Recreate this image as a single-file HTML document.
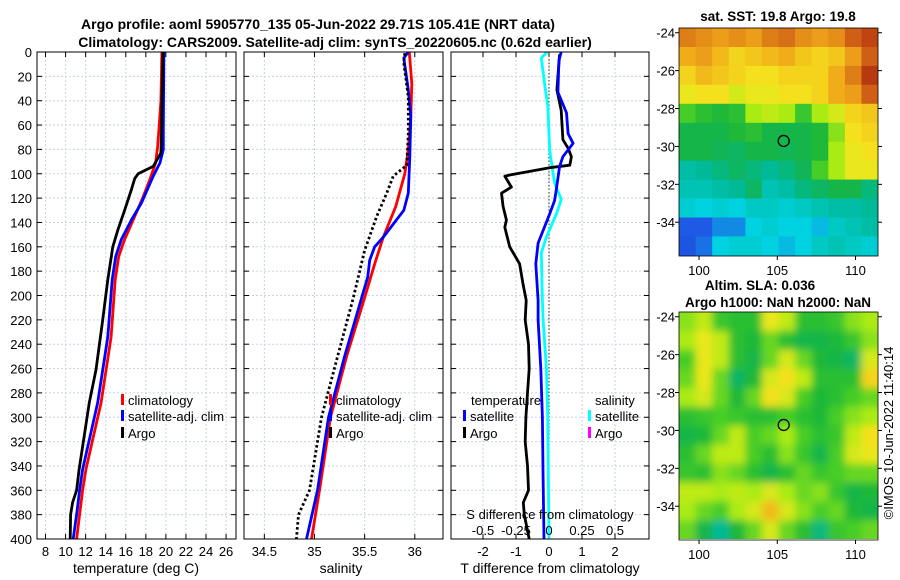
<!DOCTYPE html>
<html><head><meta charset="utf-8"><style>
html,body{margin:0;padding:0;background:#fff;}
svg{display:block;font-family:"Liberation Sans",sans-serif;}
</style></head><body>
<svg id="fig" width="900" height="580" viewBox="0 0 900 580" xmlns="http://www.w3.org/2000/svg">
<defs>
<clipPath id="c1"><rect x="37" y="52" width="199" height="487"/></clipPath>
<clipPath id="c2"><rect x="244" y="52" width="199" height="487"/></clipPath>
<clipPath id="c3"><rect x="451" y="52" width="198" height="487"/></clipPath>
<clipPath id="cm1"><rect x="679" y="28" width="199" height="228"/></clipPath>
<clipPath id="cm2"><rect x="679" y="312" width="199" height="227"/></clipPath>
<filter id="blur" x="-5%" y="-5%" width="110%" height="110%"><feGaussianBlur stdDeviation="4"/></filter>
</defs>
<text x="318" y="29" text-anchor="middle" font-size="14" font-weight="bold">Argo profile: aoml 5905770_135 05-Jun-2022 29.71S 105.41E (NRT data)</text>
<text x="335" y="47" text-anchor="middle" font-size="14" font-weight="bold">Climatology: CARS2009. Satellite-adj clim: synTS_20220605.nc (0.62d earlier)</text>
<g id="p1"></g>
<g id="p2"></g>
<g id="p3"></g>
<g id="m1"></g>
<g id="m2"></g>
<text x="0" y="0" transform="translate(893,433) rotate(-90)" text-anchor="middle" font-size="13">©IMOS 10-Jun-2022 11:40:14</text>
</svg>
<script>
const tempClimDepth=[0,20,40,64,78,91,105,119,135,154,168,187,234,288,343,360,380,400];
const tempClim=[19.6,19.55,19.5,19.3,19.17,18.97,18.4,17.73,16.89,15.88,15.3,14.95,14.54,13.54,12.03,11.7,11.4,11.1];
const tempSatDepth=[0,20,40,64,80,91,102,124,138,154,168,187,234,288,343,360,380,400];
const tempSat=[19.8,19.78,19.76,19.74,19.74,19.41,18.74,17.56,16.56,15.55,15.0,14.65,14.21,13.2,11.7,11.4,11.1,10.76];
const tempArgoDepth=[0,20,40,64,83,94,100,104,113,130,146,160,187,220,261,288,343,360,370,380,400];
const tempArgo=[19.7,19.65,19.6,19.57,19.5,18.74,17.23,16.89,16.56,15.88,15.22,14.71,14.21,13.7,13.03,12.36,11.35,11.1,10.7,10.5,10.46];
const salClimDepth=[0,26,53,80,100,127,152,174,202,250,300,360,400];
const salClim=[35.945,35.97,35.96,35.935,35.90,35.81,35.686,35.60,35.50,35.32,35.16,35.05,34.97];
const salSatDepth=[0,5,31,53,86,116,130,152,160,171,185,202,250,300,360,400];
const salSat=[35.935,35.89,35.935,35.96,35.95,35.935,35.89,35.686,35.6,35.55,35.53,35.47,35.3,35.14,35.03,34.92];
const salArgoDepth=[1,9,37,67,93,102,116,135,163,202,250,300,360,380,400];
const salArgo=[35.90,35.89,35.935,35.935,35.92,35.785,35.72,35.62,35.50,35.387,35.23,35.07,34.95,34.84,34.82];
const tdSatDepth=[0,7,33,50,67,75,86,94,113,122,133,157,174,204,220,260,300,350,400];
const tdSat=[0.37,0.30,0.27,0.53,0.58,0.73,0.42,0.32,0.22,0.17,0.02,-0.33,-0.40,-0.33,-0.33,-0.25,-0.2,-0.18,-0.15];
const tdArgoDepth=[2,31,48,72,79,86,93,95,101,102,111,116,127,138,144,160,174,190,204,220,240,260,280,300,320,340,360,370,380,400];
const tdArgo=[0.32,0.24,0.37,0.42,0.58,0.68,0.63,0.02,-1.19,-1.34,-1.14,-1.44,-1.39,-1.29,-1.34,-1.19,-0.89,-0.79,-0.69,-0.72,-0.62,-0.6,-0.65,-0.7,-0.72,-0.65,-0.62,-0.78,-0.75,-0.6];
const sdSatDepth=[0,5,26,45,81,108,121,133,152,165,204,220,260,300,400];
const sdSat=[-0.015,-0.058,-0.033,-0.008,0.005,0.043,0.093,0.056,-0.02,-0.058,-0.05,-0.045,-0.02,-0.01,0.0];
const depthTicks=[0,20,40,60,80,100,120,140,160,180,200,220,240,260,280,300,320,340,360,380,400];
const tempTicks=[8,10,12,14,16,18,20,22,24,26];
const salTicks=[34.5,35,35.5,36];
const salTickLabels=["34.5","35","35.5","36"];
const tdTicks=[-2,-1,0,1,2];
const sdTicks=[-0.5,-0.25,0,0.25,0.5];
const sdTickLabels=["-0.5","-0.25","0","0.25","0.5"];
const mapLats=[-24,-25,-26,-27,-28,-29,-30,-31,-32,-33,-34,-35];
const mapLatTicks=[-24,-26,-28,-30,-32,-34];
const mapLonTicks=[100,105,110];
const sstRows=[
[8.2,8.0,7.8,8.0,7.8,8.2,8.4,8.0,7.8,8.0,8.6,9.0],
[7.6,7.8,7.4,7.0,7.2,7.4,7.6,7.2,7.0,7.2,7.8,8.6],
[7.0,7.4,7.2,7.0,6.8,6.8,7.0,7.0,7.0,7.6,8.2,9.2],
[6.6,6.8,6.8,6.4,6.6,6.6,6.8,6.8,7.0,7.6,7.8,8.6],
[5.4,5.0,4.8,5.0,6.0,6.2,6.0,5.2,6.0,6.4,7.0,7.2],
[4.6,4.6,4.6,4.8,5.0,4.6,4.6,4.6,4.8,5.8,6.8,7.0],
[4.6,4.6,4.5,4.4,4.6,4.6,4.5,4.6,4.8,6.0,6.6,6.8],
[3.8,4.0,4.2,4.4,4.2,4.0,4.2,4.5,5.4,6.0,6.6,6.6],
[3.6,3.6,3.8,4.0,4.4,3.6,3.8,4.2,4.4,4.6,4.6,4.2],
[3.2,3.0,3.2,3.0,3.4,3.4,3.2,3.4,3.6,3.8,3.8,4.0],
[2.0,2.0,2.4,2.4,3.0,3.2,3.0,3.0,2.8,3.4,3.6,3.8],
[1.8,2.2,3.0,3.2,3.2,3.0,2.8,3.0,3.4,3.6,3.4,3.2]];
const slaRows=[
[5.8,6.2,5.2,5.0,5.0,6.6,6.2,5.0,5.0,5.2,5.8,6.0],
[6.0,6.6,6.2,5.0,4.8,5.6,5.0,4.6,4.6,4.8,5.2,5.8],
[5.4,6.6,6.2,5.0,4.6,5.6,6.4,5.6,4.8,4.6,4.4,6.4],
[5.6,6.6,5.6,4.4,4.8,6.4,6.8,6.2,5.0,5.0,5.0,7.0],
[6.0,6.4,5.6,4.8,5.6,6.8,6.4,5.4,4.8,5.0,5.4,5.6],
[5.0,5.2,5.4,5.2,5.0,5.0,5.4,5.0,4.8,5.4,5.8,6.0],
[4.6,4.8,5.6,6.2,5.4,5.6,6.0,5.4,5.0,5.2,6.2,6.8],
[5.0,5.6,6.2,6.2,5.4,5.0,5.8,5.2,4.6,5.4,6.4,6.6],
[5.2,5.0,5.8,5.6,5.0,4.6,5.0,5.6,5.2,5.4,5.6,5.6],
[6.2,6.2,6.0,6.2,6.0,6.4,6.0,5.6,5.8,5.2,4.6,4.8],
[6.0,5.6,5.4,6.0,6.4,7.4,6.4,5.8,5.4,5.6,4.8,4.6],
[5.6,4.6,4.0,4.8,5.6,6.4,5.6,5.0,4.2,5.2,5.4,5.6]];
const argoLon=105.41, argoLat=-29.71;

const NS="http://www.w3.org/2000/svg";
function mk(parent,tag,attrs,text){const e=document.createElementNS(NS,tag);for(const k in attrs)e.setAttribute(k,attrs[k]);if(text!==undefined)e.textContent=text;parent.appendChild(e);return e;}
const yD=d=>52+d*1.2175;
const x1=t=>37+(t-7.15)*10.03;
const x2=s=>314.5+(s-35)*100.3;
const x3=t=>549+t*33;
const x3s=s=>549+s*132;
const GRID="#c9d2ea";

function panelFrame(g,left,w,vticks,vlab,scale,clipId,showDepthLabels){
  for(const d of depthTicks){
    const l=mk(g,'line',{x1:left,x2:left+w,y1:yD(d),y2:yD(d),stroke:GRID,'stroke-width':1,'stroke-dasharray':'2,2'});
    
  }
  vticks.forEach((v,i)=>{
    const x=scale(v);
    const l=mk(g,'line',{x1:x,x2:x,y1:52,y2:539,stroke:GRID,'stroke-width':1,'stroke-dasharray':'2,2'});
    
    mk(g,'line',{x1:x,x2:x,y1:539,y2:534,stroke:'#000'});
    mk(g,'line',{x1:x,x2:x,y1:52,y2:57,stroke:'#000'});
    const t=mk(g,'text',{x:x,y:556,'text-anchor':'middle','font-size':13},vlab[i]);
    
  });
  for(const d of depthTicks){
    mk(g,'line',{x1:left,x2:left+5,y1:yD(d),y2:yD(d),stroke:'#000'});
    mk(g,'line',{x1:left+w,x2:left+w-5,y1:yD(d),y2:yD(d),stroke:'#000'});
    if(showDepthLabels){
      const t=mk(g,'text',{x:left-5,y:yD(d)+5,'text-anchor':'end','font-size':13},String(d));
      
    }
  }
}
function border(g,left,w){const r=mk(g,'rect',{x:left,y:52,width:w,height:487,fill:'none',stroke:'#000','stroke-width':1});}
function curve(g,vals,depths,sx,color,name,clip,dash){
  const pts=vals.map((v,i)=>sx(v).toFixed(1)+','+yD(depths[i]).toFixed(1)).join(' ');
  const a={points:pts,fill:'none',stroke:color,'stroke-width':2.8,'stroke-linejoin':'round','clip-path':'url(#'+clip+')'};
  if(dash)a['stroke-dasharray']=dash;
  const p=mk(g,'polyline',a);
  
  
}
function legendItem(g,x,y,color,label,name){
  const m=mk(g,'rect',{x:x,y:y-11,width:3,height:11,fill:color});
  
  const t=mk(g,'text',{x:x+7,y:y,'font-size':13},label);
  
}
const p1=document.getElementById('p1');
panelFrame(p1,37,199,tempTicks,tempTicks.map(String),x1,'c1',true);
curve(p1,tempClim,tempClimDepth,x1,'#f00','climatology-temp-line','c1');
curve(p1,tempSat,tempSatDepth,x1,'#00f','satellite-temp-line','c1');
curve(p1,tempArgo,tempArgoDepth,x1,'#000','argo-temp-line','c1');
border(p1,37,199);
legendItem(p1,121,405,'#f00','climatology','legend-climatology');
legendItem(p1,121,421,'#00f','satellite-adj. clim','legend-satellite');
legendItem(p1,121,438,'#000','Argo','legend-argo');
mk(p1,'text',{x:136,y:573,'text-anchor':'middle','font-size':14},'temperature (deg C)');
const p2=document.getElementById('p2');
panelFrame(p2,244,199,salTicks,salTickLabels,x2,'c2',false);
curve(p2,salClim,salClimDepth,x2,'#f00','climatology-salinity-line','c2');
curve(p2,salSat,salSatDepth,x2,'#00f','satellite-salinity-line','c2');
curve(p2,salArgo,salArgoDepth,x2,'#000','argo-salinity-line','c2','2.5,2.5');
border(p2,244,199);
legendItem(p2,329,405,'#f00','climatology','legend-climatology');
legendItem(p2,329,421,'#00f','satellite-adj. clim','legend-satellite');
legendItem(p2,329,438,'#000','Argo','legend-argo');
mk(p2,'text',{x:341,y:573,'text-anchor':'middle','font-size':14},'salinity');
const p3=document.getElementById('p3');
panelFrame(p3,451,198,tdTicks,tdTicks.map(String),x3,'c3',false);
mk(p3,'line',{x1:x3(0),x2:x3(0),y1:52,y2:539,stroke:'#555533','stroke-width':1.2,'stroke-dasharray':'1.5,2'});
mk(p3,'text',{x:471,y:405,'font-size':13},'temperature');
mk(p3,'text',{x:595,y:405,'font-size':13},'salinity');
curve(p3,sdSat,sdSatDepth,x3s,'#0ff','satellite-salinity-diff-line','c3');
curve(p3,tdArgo,tdArgoDepth,x3,'#000','argo-temp-diff-line','c3');
curve(p3,tdSat,tdSatDepth,x3,'#00f','satellite-temp-diff-line','c3');
border(p3,451,198);
legendItem(p3,463,421,'#00f','satellite','legend-temp-satellite');
legendItem(p3,463,438,'#000','Argo','legend-temp-argo');
legendItem(p3,588,421,'#0ff','satellite','legend-sal-satellite');
legendItem(p3,588,438,'#f0f','Argo','legend-sal-argo');
mk(p3,'text',{x:550,y:519,'text-anchor':'middle','font-size':13},'S difference from climatology');
sdTicks.forEach((v,i)=>{
  const t=mk(p3,'text',{x:x3s(v),y:535,'text-anchor':'middle','font-size':13},sdTickLabels[i]);
  
  
});
mk(p3,'text',{x:550,y:573,'text-anchor':'middle','font-size':14},'T difference from climatology');

const stops=[[0,[0,40,170]],[0.2,[30,90,230]],[0.3,[0,210,225]],[0.4,[0,185,150]],[0.47,[25,180,60]],[0.54,[70,205,40]],[0.6,[170,235,20]],[0.67,[245,230,30]],[0.77,[240,165,25]],[0.88,[200,80,20]],[1,[150,10,10]]];
function cmap(v){v=Math.max(0,Math.min(1,v/10));for(let i=1;i<stops.length;i++){if(v<=stops[i][0]){const a=stops[i-1],b=stops[i];const f=(v-a[0])/(b[0]-a[0]);const c=a[1].map((q,k)=>Math.round(q+(b[1][k]-q)*f));return 'rgb('+c.join(',')+')';}}return 'rgb(150,10,10)';}
function drawMap(gid,top,rows,title1,title2,clip,blur){
  const g=document.getElementById(gid);
  const left=679,w=199,bottom=top+228;
  const lonX=lon=>left+(lon-98.72)*15.65;
  const latY=lat=>top+(-23.75-lat)*18.95;
  const cellW=(111.44-98.72)/12;
  const cg=mk(g,'g',{'clip-path':'url(#'+clip+')'});
  const inner=mk(cg,'g',blur?{filter:'url(#blur)'}:{});
  rows.forEach((row,r)=>{
    row.forEach((v,c)=>{
      const lon0=98.72+c*cellW;
      const lat0=mapLats[r]+0.25;
      const x=lonX(lon0),y=latY(lat0);
      const ex=blur?12:0;
      const rc=mk(inner,'rect',{x:(x-(c==0?ex:0)).toFixed(1),y:(y-(r==0?ex:0)).toFixed(1),width:(lonX(lon0+cellW)-x+0.6+(c==0||c==11?ex:0)).toFixed(1),height:(latY(lat0-1)-y+0.6+(r==0||r==11?ex:0)).toFixed(1),fill:cmap(v)});
      
      
    });
  });
  mk(g,'rect',{x:left,y:top,width:w,height:228,fill:'none',stroke:'#000','stroke-width':0.8});
  for(const la of mapLatTicks){
    const y=latY(la);
    mk(g,'line',{x1:left,x2:left-4,y1:y,y2:y,stroke:'#000'});
    mk(g,'line',{x1:left+w,x2:left+w+4,y1:y,y2:y,stroke:'#000'});
    const t=mk(g,'text',{x:left-4,y:y+5,'text-anchor':'end','font-size':13},String(la));
    
    
  }
  for(const lo of mapLonTicks){
    const x=lonX(lo);
    mk(g,'line',{x1:x,x2:x,y1:bottom,y2:bottom+4,stroke:'#000'});
    const t=mk(g,'text',{x:x,y:bottom+19,'text-anchor':'middle','font-size':13},String(lo));
    
    
  }
  const ci=mk(g,'circle',{cx:lonX(argoLon),cy:latY(argoLat),r:5.5,fill:'none',stroke:'#000','stroke-width':1.3});
  
  
  if(title2){
    mk(g,'text',{x:760,y:top-22,'text-anchor':'middle','font-size':13.5,'font-weight':'bold'},title1);
    mk(g,'text',{x:778,y:top-5,'text-anchor':'middle','font-size':13.5,'font-weight':'bold'},title2);
  } else {
    mk(g,'text',{x:778,y:top-7,'text-anchor':'middle','font-size':13.5,'font-weight':'bold'},title1);
  }
}
drawMap('m1',28,sstRows,'sat. SST: 19.8 Argo: 19.8',null,'cm1',false);
drawMap('m2',312,slaRows,'Altim. SLA: 0.036','Argo h1000: NaN h2000: NaN','cm2',true);
</script>
</body></html>
